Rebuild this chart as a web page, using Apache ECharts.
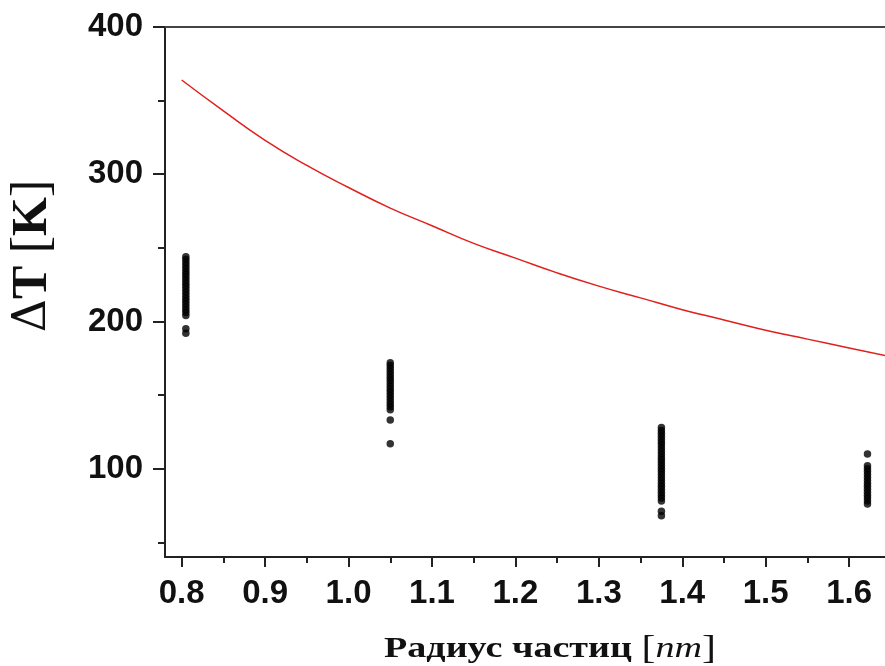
<!DOCTYPE html>
<html>
<head>
<meta charset="utf-8">
<script src="https://cdn.jsdelivr.net/npm/echarts@6/dist/echarts.min.js"></script>
<style>html,body{margin:0;padding:0;background:#fff}#c{width:885px;height:666px}</style>
</head>
<body>
<div id="c"></div>
<script>
// Tick labels
const xTicks = [0.8, 0.9, 1.0, 1.1, 1.2, 1.3, 1.4, 1.5, 1.6];
const xMinorTicks = [0.85, 0.95, 1.05, 1.15, 1.25, 1.35, 1.45, 1.55];
const yTicks = [100, 200, 300, 400];
const yMinorTicks = [50, 150, 250, 350];

// Red model curve (radius nm, ΔT K)
const curveR = [0.8, 0.85, 0.9, 0.95, 1.0, 1.05, 1.1, 1.15, 1.2, 1.25, 1.3, 1.35, 1.4, 1.45, 1.5, 1.55, 1.6, 1.65];
const curveT = [364, 343, 323, 306, 291, 277, 265, 253, 243, 233, 224, 216, 208, 201, 194, 188, 182, 176];

// Scatter clusters (radius and ΔT values)
const r1 = 0.805;
const t1 = [244, 242, 240, 238, 236, 234, 232, 230, 228, 226, 224, 222, 220, 218, 216, 214, 212, 210, 208, 206, 204, 195, 192];
const r2 = 1.05;
const t2 = [172, 170, 168, 166, 164, 162, 160, 158, 156, 154, 152, 150, 148, 146, 144, 142, 140, 133, 117];
const r3 = 1.375;
const t3 = [128, 126, 124, 122, 120, 118, 116, 114, 112, 110, 108, 106, 104, 102, 100, 98, 96, 94, 92, 90, 88, 86, 84, 82, 80, 78, 71, 68];
const r4 = 1.622;
const t4 = [110, 102, 100, 98, 96, 94, 92, 90, 88, 86, 84, 82, 80, 78, 76];

const curveData = curveR.map((r, i) => [r, curveT[i]]);
const scatterData = [].concat(
  t1.map(v => [r1, v]), t2.map(v => [r2, v]), t3.map(v => [r3, v]), t4.map(v => [r4, v])
);

const axisColor = '#222';
const labelFont = { fontFamily: 'Liberation Sans, Arial, sans-serif', fontWeight: 'bold', fontSize: 33, color: '#111' };
const X_MIN = 0.78, X_MAX = 1.643, Y_MIN = 40, Y_MAX = 400;

const chart = echarts.init(document.getElementById('c'), null, { renderer: 'canvas' });
chart.setOption({
  animation: false,
  backgroundColor: '#fff',
  grid: { left: 165, right: 0, top: 27, bottom: 109, containLabel: false },
  xAxis: [
    {
      type: 'value', min: X_MIN, max: X_MAX, position: 'bottom',
      axisLine: { show: true, onZero: false, lineStyle: { color: axisColor, width: 2 } },
      axisTick: { show: true, inside: false, length: 10, customValues: xTicks, lineStyle: { color: axisColor, width: 2 } },
      axisLabel: { show: true, customValues: xTicks, margin: 20, formatter: v => v.toFixed(1), ...labelFont },
      splitLine: { show: false }
    },
    {
      type: 'value', min: X_MIN, max: X_MAX, position: 'bottom',
      axisLine: { show: false, onZero: false },
      axisTick: { show: true, inside: false, length: 6, customValues: xMinorTicks, lineStyle: { color: axisColor, width: 2 } },
      axisLabel: { show: false },
      splitLine: { show: false }
    },
    {
      type: 'value', min: X_MIN, max: X_MAX, position: 'top',
      axisLine: { show: true, onZero: false, lineStyle: { color: '#444', width: 2 } },
      axisTick: { show: false }, axisLabel: { show: false }, splitLine: { show: false }
    }
  ],
  yAxis: [
    {
      type: 'value', min: Y_MIN, max: Y_MAX, position: 'left',
      axisLine: { show: true, onZero: false, lineStyle: { color: axisColor, width: 2 } },
      axisTick: { show: true, inside: false, length: 12, customValues: yTicks, lineStyle: { color: axisColor, width: 2 } },
      axisLabel: { show: true, customValues: yTicks, margin: 22, ...labelFont },
      splitLine: { show: false }
    },
    {
      type: 'value', min: Y_MIN, max: Y_MAX, position: 'left',
      axisLine: { show: false, onZero: false },
      axisTick: { show: true, inside: false, length: 7, customValues: yMinorTicks, lineStyle: { color: axisColor, width: 2 } },
      axisLabel: { show: false }, splitLine: { show: false }
    }
  ],
  graphic: [
    {
      type: 'text', x: 550, y: 649, scaleX: 1.27, scaleY: 1.0,
      style: {
        text: '{a|Радиус частиц }{b|[}{c|nm}{b|]}',
        textAlign: 'center', textVerticalAlign: 'middle',
        rich: {
          a: { fontFamily: 'Liberation Serif, Times New Roman, serif', fontWeight: 'bold', fontSize: 30, fill: '#111' },
          b: { fontFamily: 'Liberation Serif, Times New Roman, serif', fontWeight: 'normal', fontSize: 33, fill: '#111' },
          c: { fontFamily: 'Liberation Serif, Times New Roman, serif', fontStyle: 'italic', fontWeight: 'normal', fontSize: 30, fill: '#111' }
        }
      }
    },
    {
      type: 'text', x: 33, y: 256, rotation: Math.PI / 2,
      style: {
        text: '{d|Δ}{a|T }{b|[}{a|K}{b|]}',
        textAlign: 'center', textVerticalAlign: 'middle',
        rich: {
          d: { fontFamily: 'DejaVu Serif, Liberation Serif, serif', fontWeight: 'normal', fontSize: 46, fill: '#111' },
          a: { fontFamily: 'Liberation Serif, Times New Roman, serif', fontWeight: 'bold', fontSize: 50, fill: '#111' },
          b: { fontFamily: 'Liberation Serif, Times New Roman, serif', fontWeight: 'normal', fontSize: 52, fill: '#111' }
        }
      }
    }
  ],
  series: [
    {
      type: 'line', xAxisIndex: 0, yAxisIndex: 0, data: curveData, smooth: true,
      showSymbol: false, lineStyle: { color: '#e0201c', width: 1.5 }, clip: true, z: 2
    },
    {
      type: 'scatter', xAxisIndex: 0, yAxisIndex: 0, data: scatterData,
      symbol: 'circle', symbolSize: 7.5, itemStyle: { color: '#000' }, z: 3
    }
  ]
});
</script>
</body>
</html>
